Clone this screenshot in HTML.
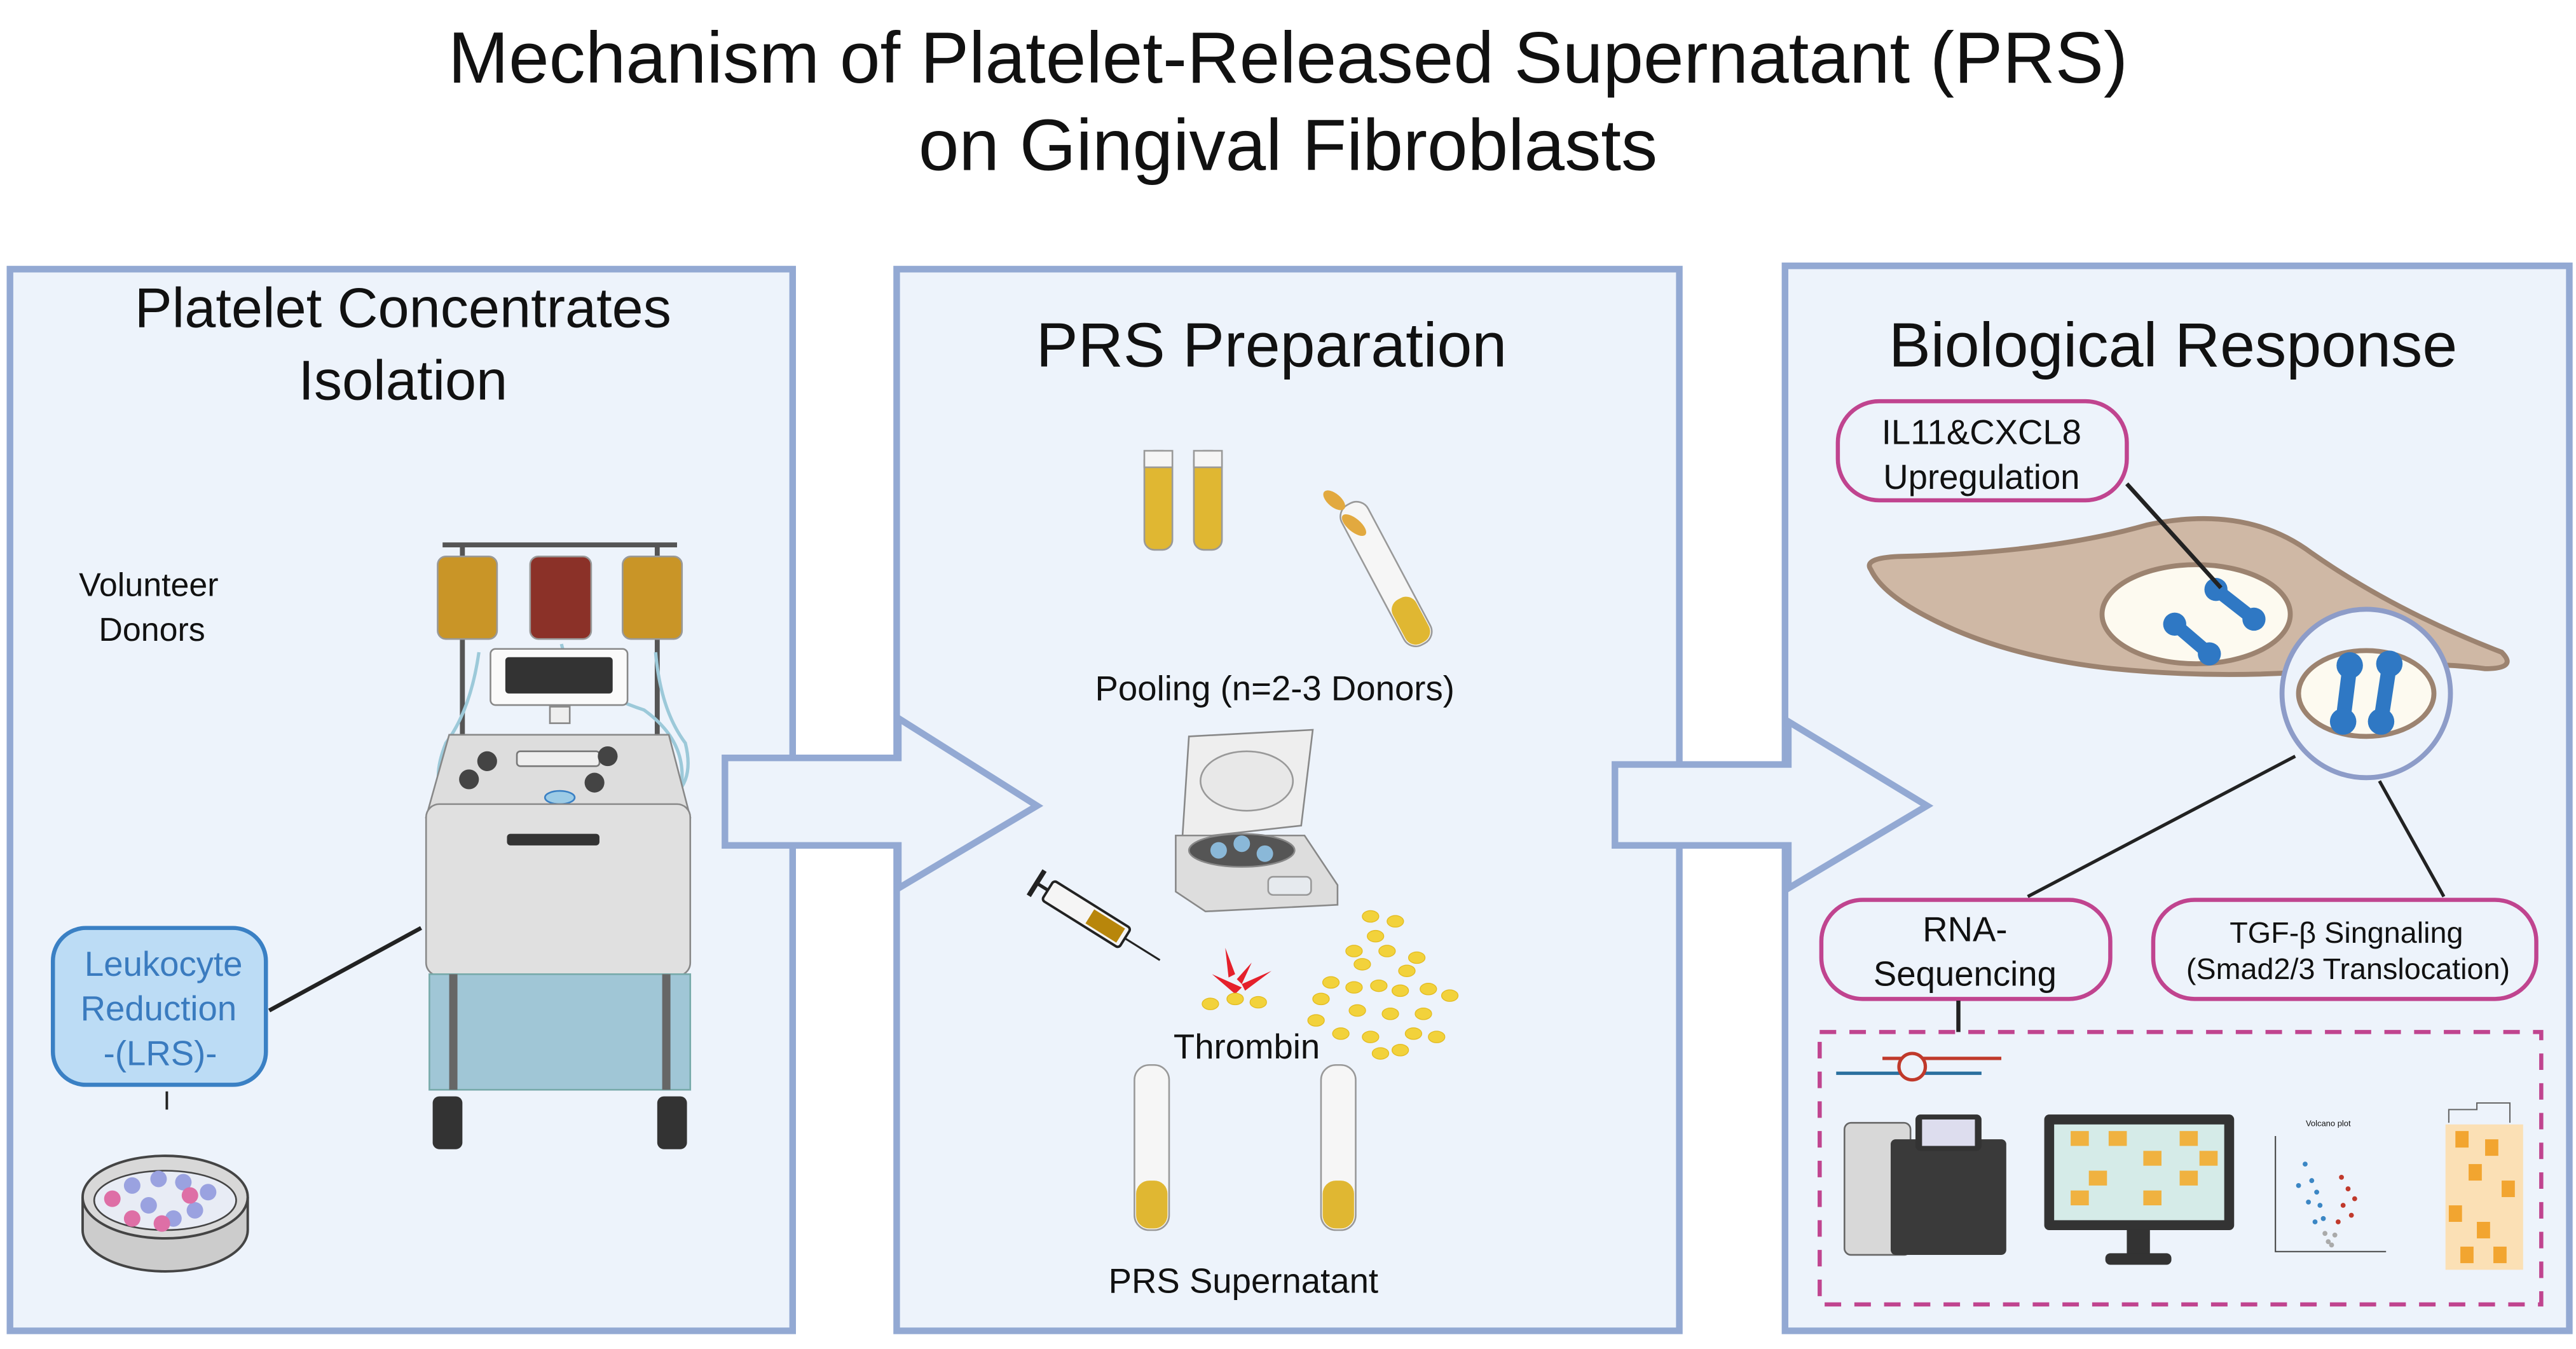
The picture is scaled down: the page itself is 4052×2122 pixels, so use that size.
<!DOCTYPE html>
<html><head><meta charset="utf-8"><style>
html,body{margin:0;padding:0;background:#fff}
svg{display:block}
text{font-family:"Liberation Sans","DejaVu Sans",sans-serif;fill:#111}
</style></head><body>
<svg width="4052" height="2122" viewBox="0 0 1560 817" xmlns="http://www.w3.org/2000/svg">
<rect width="1560" height="817" fill="#fff"/>
<text x="780" y="50" font-size="44" text-anchor="middle">Mechanism of Platelet-Released Supernatant (PRS)</text>
<text x="780" y="103" font-size="44" text-anchor="middle">on Gingival Fibroblasts</text>

<rect x="6" y="163" width="474" height="643" fill="#edf3fb" stroke="#93a9d3" stroke-width="4"/>
<rect x="543" y="163" width="474" height="643" fill="#edf3fb" stroke="#93a9d3" stroke-width="4"/>
<rect x="1081" y="161" width="475" height="645" fill="#edf3fb" stroke="#93a9d3" stroke-width="4"/>

<polygon points="439,459 544,459 544,435 628,488 544,538 544,512 439,512" fill="#edf3fb" stroke="#93a9d3" stroke-width="4"/>
<polygon points="978,463 1083,463 1083,437 1167,488 1083,538 1083,512 978,512" fill="#edf3fb" stroke="#93a9d3" stroke-width="4"/>

<text x="244" y="198" font-size="34" text-anchor="middle">Platelet Concentrates</text>
<text x="244" y="242" font-size="34" text-anchor="middle">Isolation</text>
<text x="90" y="361" font-size="20" text-anchor="middle">Volunteer</text>
<text x="92" y="388" font-size="20" text-anchor="middle">Donors</text>

<line x1="268" y1="330" x2="410" y2="330" stroke="#555" stroke-width="3"/>
<line x1="280" y1="330" x2="280" y2="470" stroke="#555" stroke-width="3"/>
<line x1="398" y1="330" x2="398" y2="470" stroke="#555" stroke-width="3"/>
<path d="M290 395 Q285 430 270 450 Q262 470 268 480" fill="none" stroke="#9cc9d9" stroke-width="2"/>
<path d="M397 395 Q400 430 415 450 Q420 470 410 480" fill="none" stroke="#9cc9d9" stroke-width="2"/>
<path d="M340 390 Q345 415 390 430 Q418 450 412 480" fill="none" stroke="#9cc9d9" stroke-width="2"/>
<rect x="265" y="337" width="36" height="50" rx="5" fill="#c99527" stroke="#999"/>
<rect x="321" y="337" width="37" height="50" rx="5" fill="#8b3128" stroke="#999"/>
<rect x="377" y="337" width="36" height="50" rx="5" fill="#c99527" stroke="#999"/>
<rect x="297" y="393" width="83" height="34" rx="3" fill="#fafafa" stroke="#888"/>
<rect x="306" y="398" width="65" height="22" rx="2" fill="#333"/>
<rect x="333" y="428" width="12" height="10" fill="#eee" stroke="#888"/>
<polygon points="272,445 405,445 418,495 258,495" fill="#ddd" stroke="#888"/>
<rect x="313" y="455" width="50" height="9" rx="2" fill="#eee" stroke="#777"/>
<circle cx="295" cy="461" r="6" fill="#444"/><circle cx="368" cy="458" r="6" fill="#444"/>
<circle cx="284" cy="472" r="6" fill="#444"/><circle cx="360" cy="474" r="6" fill="#444"/>
<ellipse cx="339" cy="483" rx="9" ry="4" fill="#9ccbe6" stroke="#3a80c4"/>
<rect x="258" y="487" width="160" height="104" rx="8" fill="#e0e0e0" stroke="#888"/>
<rect x="307" y="505" width="56" height="7" rx="2" fill="#333"/>
<rect x="260" y="590" width="158" height="70" fill="#a0c6d6" stroke="#7aa"/>
<rect x="272" y="590" width="5" height="70" fill="#666"/><rect x="401" y="590" width="5" height="70" fill="#666"/>
<rect x="262" y="664" width="18" height="32" rx="4" fill="#333"/>
<rect x="398" y="664" width="18" height="32" rx="4" fill="#333"/>

<line x1="163" y1="612" x2="255" y2="562" stroke="#222" stroke-width="2.5"/>
<rect x="32" y="562" width="129" height="95" rx="20" fill="#bcdcf5" stroke="#3a80c4" stroke-width="2.5"/>
<text x="99" y="591" font-size="21" text-anchor="middle" style="fill:#3a7bbf">Leukocyte</text>
<text x="96" y="618" font-size="21" text-anchor="middle" style="fill:#3a7bbf">Reduction</text>
<text x="97" y="645" font-size="21" text-anchor="middle" style="fill:#3a7bbf">-(LRS)-</text>
<line x1="101" y1="661" x2="101" y2="672" stroke="#222" stroke-width="1.5"/>
<path d="M50 725 L50 745 A50 25 0 0 0 150 745 L150 725" fill="#ccc" stroke="#444" stroke-width="1.5"/>
<ellipse cx="100" cy="725" rx="50" ry="25" fill="#d8d8d8" stroke="#444" stroke-width="1.5"/>
<ellipse cx="100" cy="727" rx="43" ry="18" fill="#e8ecf5" stroke="#444"/>
<g fill="#9aa2e0"><circle cx="80" cy="718" r="5"/><circle cx="96" cy="714" r="5"/><circle cx="111" cy="716" r="5"/><circle cx="90" cy="730" r="5"/><circle cx="118" cy="733" r="5"/><circle cx="105" cy="738" r="5"/><circle cx="126" cy="722" r="5"/></g>
<g fill="#de6fa6"><circle cx="68" cy="726" r="5"/><circle cx="80" cy="738" r="5"/><circle cx="98" cy="741" r="5"/><circle cx="115" cy="724" r="5"/></g>

<text x="770" y="222" font-size="38" text-anchor="middle">PRS Preparation</text>
<rect x="693" y="273" width="17" height="60" rx="6" fill="#e0b732" stroke="#999"/>
<rect x="693" y="273" width="17" height="10" fill="#f5f5f5" stroke="#999"/>
<rect x="723" y="273" width="17" height="60" rx="6" fill="#e0b732" stroke="#999"/>
<rect x="723" y="273" width="17" height="10" fill="#f5f5f5" stroke="#999"/>
<g transform="rotate(-28 838 345)"><rect x="829" y="300" width="18" height="96" rx="8" fill="#f6f6f6" stroke="#999"/><rect x="830" y="365" width="16" height="30" rx="7" fill="#e0b732"/></g>
<ellipse cx="808" cy="303" rx="8" ry="4" fill="#e2a93f" transform="rotate(40 808 303)"/>
<ellipse cx="820" cy="318" rx="9" ry="4" fill="#e2a93f" transform="rotate(40 820 318)"/>
<text x="772" y="424" font-size="21" text-anchor="middle">Pooling (n=2-3 Donors)</text>
<g transform="translate(0,28) scale(1)">
<polygon points="720,418 795,414 788,472 716,480" fill="#eee" stroke="#888"/>
<ellipse cx="755" cy="445" rx="28" ry="18" fill="#e8e8e8" stroke="#999"/>
<polygon points="712,478 790,478 810,508 810,520 730,524 712,512" fill="#ddd" stroke="#888"/>
<ellipse cx="752" cy="487" rx="32" ry="10" fill="#555" stroke="#888"/>
<g fill="#8ab8d8"><circle cx="738" cy="487" r="5"/><circle cx="752" cy="483" r="5"/><circle cx="766" cy="489" r="5"/></g>
<rect x="768" y="503" width="26" height="11" rx="3" fill="#e6eaee" stroke="#999"/>
</g>
<g transform="rotate(32 660 555)"><rect x="630" y="548" width="55" height="14" rx="2" fill="#f5f5f5" stroke="#222" stroke-width="1.5"/><rect x="660" y="550" width="22" height="10" fill="#b8860b"/><line x1="622" y1="555" x2="630" y2="555" stroke="#222" stroke-width="2"/><line x1="622" y1="546" x2="622" y2="564" stroke="#222" stroke-width="3"/><line x1="685" y1="555" x2="710" y2="555" stroke="#222" stroke-width="1.2"/></g>
<g fill="#e5202b"><polygon points="734,590 752,598 748,602"/><polygon points="742,574 748,590 744,592"/><polygon points="758,583 752,596 749,593"/><polygon points="770,588 754,600 752,596"/></g>
<g fill="#f2d23b" stroke="#e3bb20" stroke-width="0.5">
<ellipse cx="733" cy="608" rx="5" ry="3.5"/><ellipse cx="748" cy="605" rx="5" ry="3.5"/><ellipse cx="762" cy="607" rx="5" ry="3.5"/>
<ellipse cx="830" cy="555" rx="5" ry="3.5"/><ellipse cx="845" cy="558" rx="5" ry="3.5"/><ellipse cx="833" cy="567" rx="5" ry="3.5"/><ellipse cx="820" cy="576" rx="5" ry="3.5"/><ellipse cx="840" cy="576" rx="5" ry="3.5"/><ellipse cx="858" cy="580" rx="5" ry="3.5"/><ellipse cx="825" cy="584" rx="5" ry="3.5"/><ellipse cx="852" cy="588" rx="5" ry="3.5"/>
<ellipse cx="806" cy="595" rx="5" ry="3.5"/><ellipse cx="820" cy="598" rx="5" ry="3.5"/><ellipse cx="835" cy="597" rx="5" ry="3.5"/><ellipse cx="848" cy="600" rx="5" ry="3.5"/><ellipse cx="865" cy="599" rx="5" ry="3.5"/><ellipse cx="878" cy="603" rx="5" ry="3.5"/><ellipse cx="800" cy="605" rx="5" ry="3.5"/><ellipse cx="822" cy="612" rx="5" ry="3.5"/><ellipse cx="842" cy="614" rx="5" ry="3.5"/><ellipse cx="862" cy="614" rx="5" ry="3.5"/><ellipse cx="797" cy="618" rx="5" ry="3.5"/><ellipse cx="812" cy="626" rx="5" ry="3.5"/><ellipse cx="830" cy="628" rx="5" ry="3.5"/><ellipse cx="856" cy="626" rx="5" ry="3.5"/><ellipse cx="836" cy="638" rx="5" ry="3.5"/><ellipse cx="848" cy="636" rx="5" ry="3.5"/><ellipse cx="870" cy="628" rx="5" ry="3.5"/>
</g>
<text x="755" y="641" font-size="21" text-anchor="middle">Thrombin</text>
<rect x="687" y="645" width="21" height="100" rx="9" fill="#f6f6f6" stroke="#999"/>
<rect x="688" y="715" width="19" height="29" rx="8" fill="#e0b732"/>
<rect x="800" y="645" width="21" height="100" rx="9" fill="#f6f6f6" stroke="#999"/>
<rect x="801" y="715" width="19" height="29" rx="8" fill="#e0b732"/>
<text x="753" y="783" font-size="21" text-anchor="middle">PRS Supernatant</text>

<text x="1316" y="222" font-size="38" text-anchor="middle">Biological Response</text>
<path d="M1133 345 Q1128 338 1150 337 Q1240 335 1300 318 Q1360 305 1400 335 Q1450 370 1515 395 Q1525 405 1505 405 Q1470 400 1420 405 Q1350 412 1280 405 Q1215 398 1170 375 Q1140 360 1133 345 Z" fill="#cfb8a5" stroke="#9c8370" stroke-width="3"/>
<ellipse cx="1330" cy="372" rx="57" ry="30" fill="#fdfaf0" stroke="#9c8370" stroke-width="3"/>
<g stroke="#2f78c4" stroke-width="8" stroke-linecap="round"><line x1="1317" y1="378" x2="1338" y2="396"/><line x1="1342" y1="357" x2="1365" y2="375"/></g>
<g fill="#2f78c4"><circle cx="1317" cy="378" r="7"/><circle cx="1338" cy="396" r="7"/><circle cx="1342" cy="357" r="7"/><circle cx="1365" cy="375" r="7"/></g>
<line x1="1288" y1="293" x2="1345" y2="356" stroke="#222" stroke-width="2.5"/>
<circle cx="1433" cy="420" r="51" fill="#edf3fb" stroke="#8d9cc8" stroke-width="3"/>
<ellipse cx="1433" cy="420" rx="41" ry="26" fill="#fdfaf0" stroke="#9c8370" stroke-width="3"/>
<g stroke="#2f78c4" stroke-width="9" stroke-linecap="round"><line x1="1423" y1="404" x2="1419" y2="436"/><line x1="1447" y1="403" x2="1442" y2="436"/></g>
<g fill="#2f78c4"><circle cx="1423" cy="403" r="8"/><circle cx="1419" cy="437" r="8"/><circle cx="1447" cy="402" r="8"/><circle cx="1442" cy="437" r="8"/></g>
<line x1="1390" y1="458" x2="1228" y2="543" stroke="#222" stroke-width="2"/>
<line x1="1441" y1="473" x2="1480" y2="543" stroke="#222" stroke-width="2"/>

<rect x="1113" y="243" width="175" height="60" rx="25" fill="#edf3fb" stroke="#c0448f" stroke-width="2.5"/>
<text x="1200" y="269" font-size="21" text-anchor="middle">IL11&amp;CXCL8</text>
<text x="1200" y="296" font-size="21" text-anchor="middle">Upregulation</text>
<rect x="1103" y="545" width="175" height="60" rx="25" fill="#edf3fb" stroke="#c0448f" stroke-width="2.5"/>
<text x="1190" y="570" font-size="21" text-anchor="middle">RNA-</text>
<text x="1190" y="597" font-size="21" text-anchor="middle">Sequencing</text>
<rect x="1304" y="545" width="232" height="60" rx="25" fill="#edf3fb" stroke="#c0448f" stroke-width="2.5"/>
<text x="1421" y="571" font-size="18" text-anchor="middle">TGF-β Singnaling</text>
<text x="1422" y="593" font-size="18" text-anchor="middle">(Smad2/3 Translocation)</text>
<line x1="1186" y1="606" x2="1186" y2="625" stroke="#222" stroke-width="2.5"/>
<rect x="1102" y="625" width="437" height="165" fill="none" stroke="#c0448f" stroke-width="2.5" stroke-dasharray="10 8"/>
<line x1="1140" y1="641" x2="1212" y2="641" stroke="#c0392b" stroke-width="2"/>
<line x1="1112" y1="650" x2="1200" y2="650" stroke="#2a6f9e" stroke-width="2"/>
<circle cx="1158" cy="646" r="8" fill="#edf3fb" stroke="#c0392b" stroke-width="2"/>
<rect x="1117" y="680" width="40" height="80" rx="4" fill="#d8d8d8" stroke="#666"/>
<rect x="1145" y="690" width="70" height="70" rx="3" fill="#3a3a3a"/>
<rect x="1160" y="675" width="40" height="22" rx="3" fill="#333"/><rect x="1164" y="678" width="32" height="16" fill="#dde"/>
<rect x="1238" y="675" width="115" height="70" rx="3" fill="#333"/>
<rect x="1244" y="681" width="103" height="58" fill="#d5ebe8"/>
<g fill="#f0b240"><rect x="1254" y="685" width="11" height="9"/><rect x="1277" y="685" width="11" height="9"/><rect x="1320" y="685" width="11" height="9"/><rect x="1298" y="697" width="11" height="9"/><rect x="1332" y="697" width="11" height="9"/><rect x="1265" y="709" width="11" height="9"/><rect x="1320" y="709" width="11" height="9"/><rect x="1254" y="721" width="11" height="9"/><rect x="1298" y="721" width="11" height="9"/></g>
<rect x="1288" y="745" width="14" height="15" fill="#333"/><rect x="1275" y="759" width="40" height="7" rx="3" fill="#333"/>
<text x="1410" y="682" font-size="5" text-anchor="middle">Volcano plot</text>
<polyline points="1378,688 1378,758 1445,758" fill="none" stroke="#444" stroke-width="0.8"/>
<g fill="#3b86c4"><circle cx="1396" cy="705" r="1.5"/><circle cx="1400" cy="715" r="1.5"/><circle cx="1403" cy="722" r="1.5"/><circle cx="1392" cy="718" r="1.5"/><circle cx="1405" cy="730" r="1.5"/><circle cx="1398" cy="728" r="1.5"/><circle cx="1407" cy="738" r="1.5"/><circle cx="1402" cy="740" r="1.5"/></g>
<g fill="#c0392b"><circle cx="1418" cy="713" r="1.5"/><circle cx="1422" cy="720" r="1.5"/><circle cx="1426" cy="726" r="1.5"/><circle cx="1419" cy="730" r="1.5"/><circle cx="1424" cy="736" r="1.5"/><circle cx="1416" cy="740" r="1.5"/></g>
<g fill="#aaa"><circle cx="1410" cy="752" r="1.5"/><circle cx="1408" cy="747" r="1.5"/><circle cx="1414" cy="748" r="1.5"/><circle cx="1412" cy="754" r="1.5"/></g>
<path d="M1483 680 L1483 672 L1500 672 L1500 668 L1520 668 L1520 680" fill="none" stroke="#666" stroke-width="0.8"/>
<rect x="1481" y="681" width="47" height="88" fill="#fbe0b5"/>
<g fill="#f2a530"><rect x="1487" y="685" width="8" height="10"/><rect x="1505" y="690" width="8" height="10"/><rect x="1495" y="705" width="8" height="10"/><rect x="1515" y="715" width="8" height="10"/><rect x="1483" y="730" width="8" height="10"/><rect x="1500" y="740" width="8" height="10"/><rect x="1510" y="755" width="8" height="10"/><rect x="1490" y="755" width="8" height="10"/></g>
</svg>
</body></html>
